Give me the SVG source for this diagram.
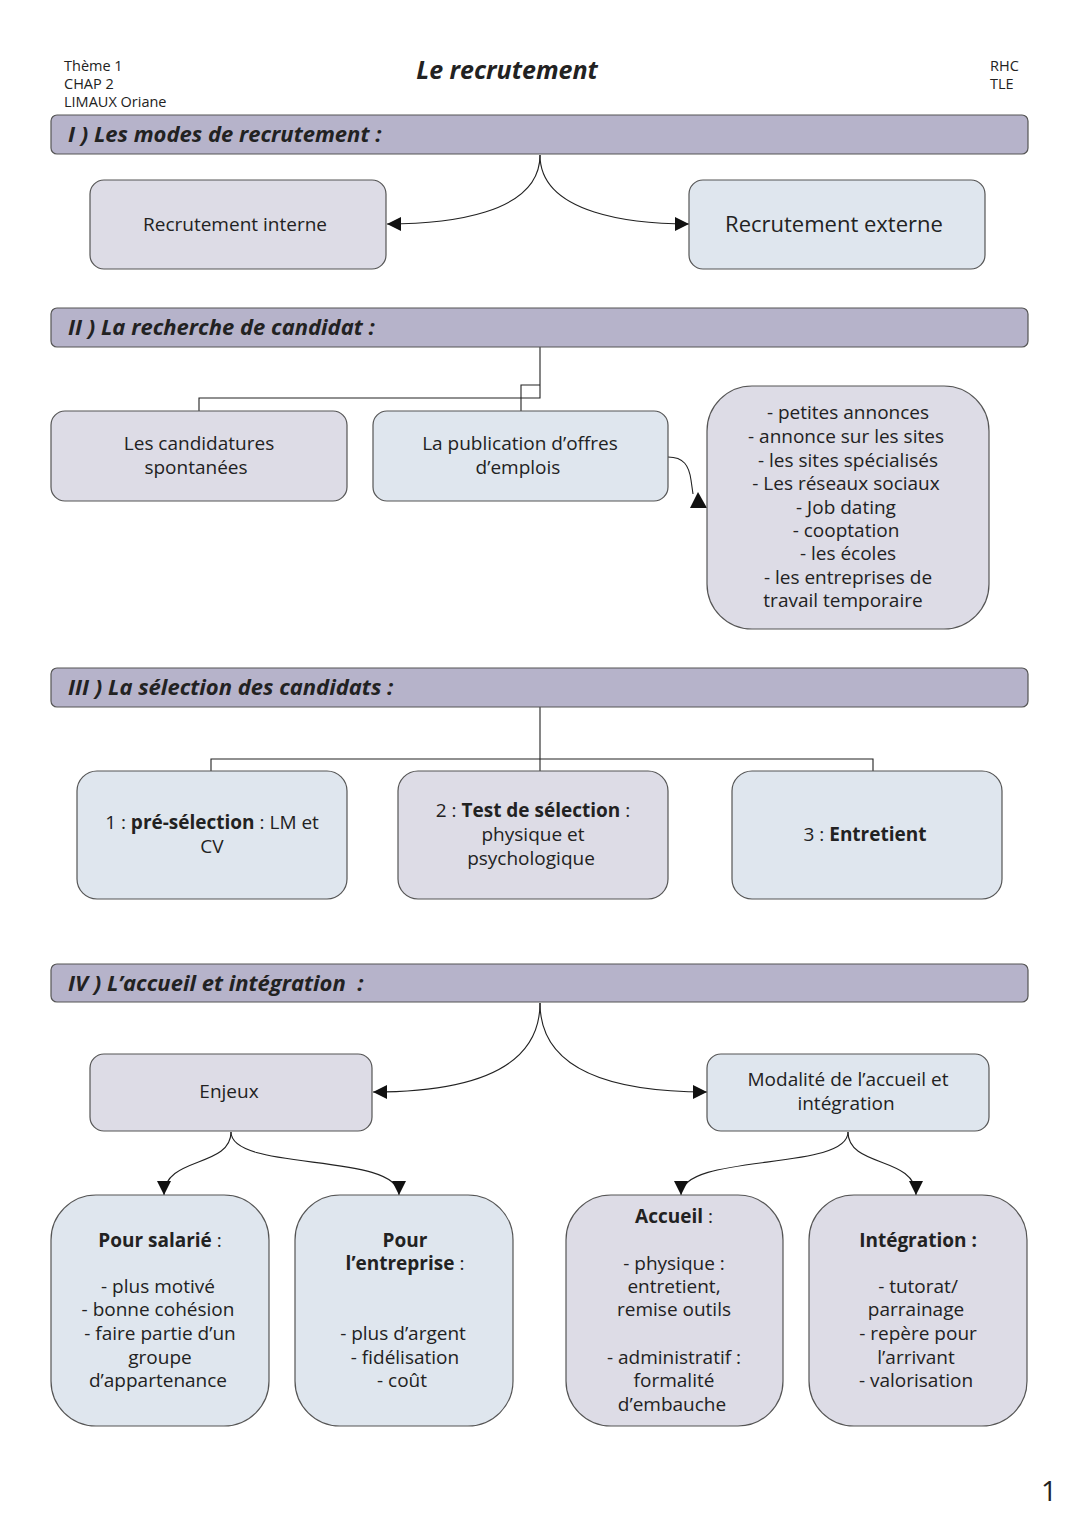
<svg xmlns="http://www.w3.org/2000/svg" width="1080" height="1527" viewBox="0 0 1080 1527">
<defs>
<style>
text{font-family:"Open Sans","Noto Sans","DejaVu Sans",sans-serif;fill:#222;}
.t{font-size:19px;text-anchor:middle;}
.hdr{font-size:14.5px;}
.sec{font-size:22px;font-weight:bold;font-style:italic;}
.bar{fill:#b6b3ca;stroke:#555;stroke-width:1.2;}
.g{fill:#dddce6;stroke:#555;stroke-width:1.2;}
.b{fill:#dfe6ee;stroke:#555;stroke-width:1.2;}
.c{fill:none;stroke:#222;stroke-width:1.1;}
.bd{font-weight:bold;}
</style>
<marker id="ah" viewBox="0 0 14 14" refX="14" refY="7" markerWidth="14" markerHeight="14" markerUnits="userSpaceOnUse" orient="auto">
<path d="M0,0 L14,7 L0,14 Z" fill="#111"/>
</marker>
</defs>
<rect width="1080" height="1527" fill="#fff"/>

<g id="header">
<text class="hdr" x="64" y="71">Thème 1</text>
<text class="hdr" x="64" y="89">CHAP 2</text>
<text class="hdr" x="64" y="107">LIMAUX Oriane</text>
<text x="507" y="79" style="font-size:25px;font-weight:bold;font-style:italic;text-anchor:middle">Le recrutement</text>
<text class="hdr" x="990" y="71">RHC</text>
<text class="hdr" x="990" y="89">TLE</text>
</g>

<g id="connectors">
<path class="c" d="M540,155 C540,215 445,224 387,224" marker-end="url(#ah)"/>
<path class="c" d="M540,155 C540,215 635,224 689,224" marker-end="url(#ah)"/>
<path class="c" d="M540,347 V398 H199 V411"/>
<path class="c" d="M540,385 H521 V411"/>
<path class="c" d="M668,457 C684,457 689,466 691,480 L693,494"/>
<polygon points="698,492 690,508 707,508" fill="#111"/>
<path class="c" d="M540,707 V771"/>
<path class="c" d="M211,771 V759 H873 V771"/>
<path class="c" d="M540,1003 C540,1080 445,1092 373,1092" marker-end="url(#ah)"/>
<path class="c" d="M540,1003 C540,1080 635,1092 707,1092" marker-end="url(#ah)"/>
<path class="c" d="M231,1132 C231,1168 164,1156 164,1195" marker-end="url(#ah)"/>
<path class="c" d="M231,1132 C231,1172 399,1152 399,1195" marker-end="url(#ah)"/>
<path class="c" d="M848,1132 C848,1172 681,1152 681,1195" marker-end="url(#ah)"/>
<path class="c" d="M848,1132 C848,1168 916,1156 916,1195" marker-end="url(#ah)"/>
</g>

<g id="sec1">
<rect class="bar" x="51" y="115" width="977" height="39" rx="6"/>
<text class="sec" x="68" y="142">I ) Les modes de recrutement :</text>
</g>
<g id="interne">
<rect class="g" x="90" y="180" width="296" height="89" rx="14"/>
<text class="t" x="235" y="231">Recrutement interne</text>
</g>
<g id="externe">
<rect class="b" x="689" y="180" width="296" height="89" rx="14"/>
<text class="t" x="834" y="232" style="font-size:22px">Recrutement externe</text>
</g>

<g id="sec2">
<rect class="bar" x="51" y="308" width="977" height="39" rx="6"/>
<text class="sec" x="68" y="335">II ) La recherche de candidat :</text>
</g>
<g id="spontanees">
<rect class="g" x="51" y="411" width="296" height="90" rx="14"/>
<text class="t" x="199" y="450">Les candidatures</text>
<text class="t" x="196" y="474">spontanées</text>
</g>
<g id="publication">
<rect class="b" x="373" y="411" width="295" height="90" rx="14"/>
<text class="t" x="520" y="450">La publication d’offres</text>
<text class="t" x="518" y="474">d’emplois</text>
</g>
<g id="liste">
<rect class="g" x="707" y="386" width="282" height="243" rx="45"/>
<text class="t" x="848" y="419">- petites annonces</text>
<text class="t" x="846" y="443">- annonce sur les sites</text>
<text class="t" x="848" y="467">- les sites spécialisés</text>
<text class="t" x="846" y="490">- Les réseaux sociaux</text>
<text class="t" x="846" y="514">- Job dating</text>
<text class="t" x="846" y="537">- cooptation</text>
<text class="t" x="848" y="560">- les écoles</text>
<text class="t" x="848" y="584">- les entreprises de</text>
<text class="t" x="843" y="607">travail temporaire</text>
</g>

<g id="sec3">
<rect class="bar" x="51" y="668" width="977" height="39" rx="6"/>
<text class="sec" x="68" y="695">III ) La sélection des candidats :</text>
</g>
<g id="preselection">
<rect class="b" x="77" y="771" width="270" height="128" rx="20"/>
<text class="t" x="212" y="829">1 : <tspan class="bd">pré-sélection</tspan> : LM et</text>
<text class="t" x="212" y="853">CV</text>
</g>
<g id="test">
<rect class="g" x="398" y="771" width="270" height="128" rx="20"/>
<text class="t" x="533" y="817">2 : <tspan class="bd">Test de sélection</tspan> :</text>
<text class="t" x="533" y="841">physique et</text>
<text class="t" x="531" y="865">psychologique</text>
</g>
<g id="entretient">
<rect class="b" x="732" y="771" width="270" height="128" rx="20"/>
<text class="t" x="865" y="841">3 : <tspan class="bd">Entretient</tspan></text>
</g>

<g id="sec4">
<rect class="bar" x="51" y="964" width="977" height="38" rx="6"/>
<text class="sec" x="68" y="991" xml:space="preserve">IV ) L’accueil et intégration  :</text>
</g>
<g id="enjeux">
<rect class="g" x="90" y="1054" width="282" height="77" rx="14"/>
<text class="t" x="229" y="1098">Enjeux</text>
</g>
<g id="modalite">
<rect class="b" x="707" y="1054" width="282" height="77" rx="14"/>
<text class="t" x="848" y="1086">Modalité de l’accueil et</text>
<text class="t" x="846" y="1110">intégration</text>
</g>

<g id="salarie">
<rect class="b" x="51" y="1195" width="218" height="231" rx="45"/>
<text class="t" x="160" y="1247"><tspan class="bd">Pour salarié</tspan> :</text>
<text class="t" x="158" y="1293">- plus motivé</text>
<text class="t" x="158" y="1316">- bonne cohésion</text>
<text class="t" x="160" y="1340">- faire partie d’un</text>
<text class="t" x="160" y="1364">groupe</text>
<text class="t" x="158" y="1387">d’appartenance</text>
</g>
<g id="entreprise">
<rect class="b" x="295" y="1195" width="218" height="231" rx="45"/>
<text class="t bd" x="405" y="1247">Pour</text>
<text class="t" x="405" y="1270"><tspan class="bd">l’entreprise</tspan> :</text>
<text class="t" x="403" y="1340">- plus d’argent</text>
<text class="t" x="405" y="1364">- fidélisation</text>
<text class="t" x="402" y="1387">- coût</text>
</g>
<g id="accueil">
<rect class="g" x="566" y="1195" width="217" height="231" rx="45"/>
<text class="t" x="674" y="1223"><tspan class="bd">Accueil</tspan> :</text>
<text class="t" x="674" y="1270">- physique :</text>
<text class="t" x="674" y="1293">entretient,</text>
<text class="t" x="674" y="1316">remise outils</text>
<text class="t" x="674" y="1364">- administratif :</text>
<text class="t" x="674" y="1387">formalité</text>
<text class="t" x="672" y="1411">d’embauche</text>
</g>
<g id="integration">
<rect class="g" x="809" y="1195" width="218" height="231" rx="45"/>
<text class="t bd" x="918" y="1247">Intégration :</text>
<text class="t" x="918" y="1293">- tutorat/</text>
<text class="t" x="916" y="1316">parrainage</text>
<text class="t" x="918" y="1340">- repère pour</text>
<text class="t" x="916" y="1364">l’arrivant</text>
<text class="t" x="916" y="1387">- valorisation</text>
</g>

<text x="1049" y="1501" style="font-size:28px;text-anchor:middle">1</text>
</svg>
